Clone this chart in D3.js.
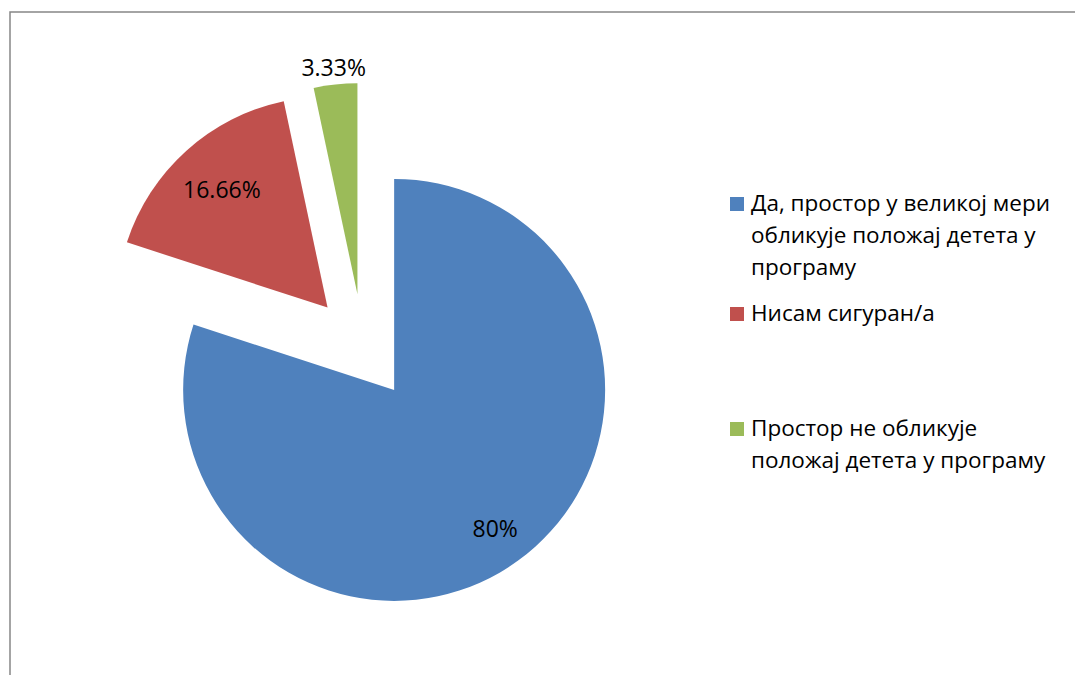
<!DOCTYPE html>
<html>
<head>
<meta charset="utf-8">
<script src="https://cdn.jsdelivr.net/npm/d3@7"></script>
<style>
  body { margin: 0; background: #fff; }
  svg text { font-family: "Open Sans", "Noto Sans", sans-serif; fill: #000; }
</style>
</head>
<body>
<div id="chart"></div>
<script>
// chart data
var categories = [
  "Да, простор у великој мери обликује положај детета у програму",
  "Нисам сигуран/а",
  "Простор не обликује положај детета у програму"
];
var values = [80, 16.66, 3.33];
var valueLabels = ["80%", "16.66%", "3.33%"];
// legend text split into lines as in the original
var legendLines = [
  ["Да, простор у великој мери", "обликује положај детета у", "програму"],
  ["Нисам сигуран/а"],
  ["Простор не обликује", "положај детета у програму"]
];
var colors = ["#4f81bd", "#c0504d", "#9bbb59"];

var svgWidth = 1075;
var svgHeight = 675;

var svg = d3.select("#chart")
  .append("svg")
  .attr("width", svgWidth)
  .attr("height", svgHeight);

// chart area border (runs off right and bottom edges)
svg.append("path")
  .attr("d", "M10,676 L10,12 L1076,12")
  .attr("fill", "none")
  .attr("stroke", "#868686")
  .attr("stroke-width", 1.5);

var radius = 211;
var explode = 53;
var center = [363, 347];
// distance of each value label from its own slice center
var labelRadius = [172, 158, 228];

var pie = d3.pie().sort(null).value(d => d);
var arcs = pie(values);

var arc = d3.arc().innerRadius(0).outerRadius(radius);

var pieGroup = svg.append("g")
  .attr("transform", `translate(${center[0]}, ${center[1]})`);

function offset(d, r) {
  var a = (d.startAngle + d.endAngle) / 2;
  return [Math.sin(a) * r, -Math.cos(a) * r];
}

var slices = pieGroup.selectAll("g.slice")
  .data(arcs)
  .enter()
  .append("g")
  .attr("class", "slice")
  .attr("transform", function(d) {
    var o = offset(d, explode);
    return `translate(${o[0]}, ${o[1]})`;
  });

slices.append("path")
  .attr("d", arc)
  .attr("fill", (d, i) => colors[i]);

slices.append("text")
  .attr("x", (d, i) => offset(d, labelRadius[i])[0])
  .attr("y", (d, i) => offset(d, labelRadius[i])[1])
  .attr("dy", "0.35em")
  .style("text-anchor", "middle")
  .style("font-size", "23px")
  .text((d, i) => valueLabels[i]);

// legend
var legendY = [211, 321, 436];
var legend = svg.append("g");

var items = legend.selectAll("g.item")
  .data(categories)
  .enter()
  .append("g")
  .attr("class", "item")
  .attr("transform", (d, i) => `translate(730, ${legendY[i]})`);

items.append("rect")
  .attr("x", 0)
  .attr("y", -14)
  .attr("width", 14)
  .attr("height", 14)
  .attr("fill", (d, i) => colors[i]);

items.append("text")
  .attr("x", 21)
  .attr("y", 0)
  .style("font-size", "22.5px")
  .selectAll("tspan")
  .data((d, i) => legendLines[i])
  .enter()
  .append("tspan")
  .attr("x", 21)
  .attr("y", (d, j) => j * 32)
  .text(d => d);
</script>
</body>
</html>
